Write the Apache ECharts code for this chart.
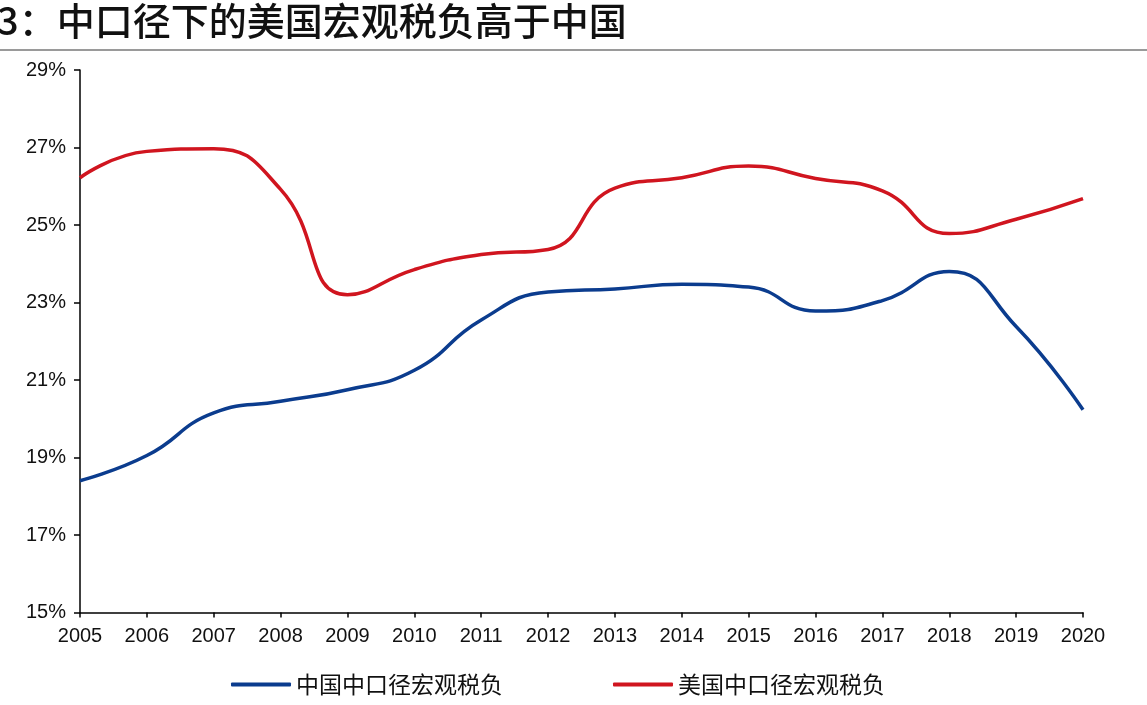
<!DOCTYPE html>
<html>
<head>
<meta charset="utf-8">
<script src="https://cdn.jsdelivr.net/npm/echarts@6/dist/echarts.min.js"></script>
<style>
html,body{margin:0;padding:0;background:#fff;}
#chart{width:1147px;height:705px;}
</style>
</head>
<body>
<div id="chart"></div>
<script>
var titleText = '3：中口径下的美国宏观税负高于中国';
var years = ['2005','2006','2007','2008','2009','2010','2011','2012','2013','2014','2015','2016','2017','2018','2019','2020'];
var chinaName = '中国中口径宏观税负';
var usName = '美国中口径宏观税负';
var chinaValues = [18.4, 19.05, 20.15, 20.45, 20.75, 21.25, 22.55, 23.27, 23.35, 23.47, 23.4, 22.78, 23.05, 23.8, 22.38, 20.23];
var usValues = [26.22, 26.9, 26.97, 25.92, 23.2, 23.85, 24.24, 24.37, 25.95, 26.22, 26.52, 26.2, 25.88, 24.78, 25.15, 25.68];
var yMin = 15, yMax = 29, yStep = 2;

var chart = echarts.init(document.getElementById('chart'));
var numFont = 'Liberation Sans, Arial, sans-serif';
var cjkFont = 'Noto Sans CJK SC, sans-serif';
chart.setOption({
  animation: false,
  backgroundColor: '#fff',
  title: {
    text: titleText,
    left: -8,
    top: -3,
    textStyle: {fontFamily: cjkFont, fontSize: 38, fontWeight: 500, color: '#111'}
  },
  graphic: [{
    type: 'line',
    shape: {x1: 0, y1: 50, x2: 1147, y2: 50},
    style: {stroke: '#9a9a9a', lineWidth: 2}
  }],
  legend: {
    left: 226,
    top: 668,
    itemGap: 110,
    itemWidth: 60,
    itemHeight: 4,
    icon: 'roundRect',
    textStyle: {fontFamily: cjkFont, fontSize: 23, color: '#111'},
    data: [chinaName, usName]
  },
  grid: {left: 80, right: 64, top: 70, bottom: 92.5},
  xAxis: {
    type: 'category',
    data: years,
    boundaryGap: false,
    axisLine: {lineStyle: {color: '#000', width: 1.5}},
    axisTick: {show: true, length: 5, interval: 0, lineStyle: {color: '#000', width: 1.5}},
    axisLabel: {interval: 0, margin: 14, fontFamily: numFont, fontSize: 20, color: '#111'},
    splitLine: {show: false}
  },
  yAxis: {
    type: 'value',
    min: yMin, max: yMax, interval: yStep,
    axisLine: {show: true, lineStyle: {color: '#000', width: 1.5}},
    axisTick: {show: true, length: 6, lineStyle: {color: '#000', width: 1.5}},
    axisLabel: {formatter: '{value}%', margin: 14, fontFamily: numFont, fontSize: 20, color: '#111'},
    splitLine: {show: false}
  },
  series: [{
    name: chinaName,
    type: 'line',
    data: chinaValues,
    smooth: 0.5,
    symbol: 'none',
    lineStyle: {color: '#0B3C8E', width: 3.5},
    itemStyle: {color: '#0B3C8E'}
  }, {
    name: usName,
    type: 'line',
    data: usValues,
    smooth: 0.5,
    symbol: 'none',
    lineStyle: {color: '#D0151F', width: 3.5},
    itemStyle: {color: '#D0151F'}
  }]
});
</script>
</body>
</html>
